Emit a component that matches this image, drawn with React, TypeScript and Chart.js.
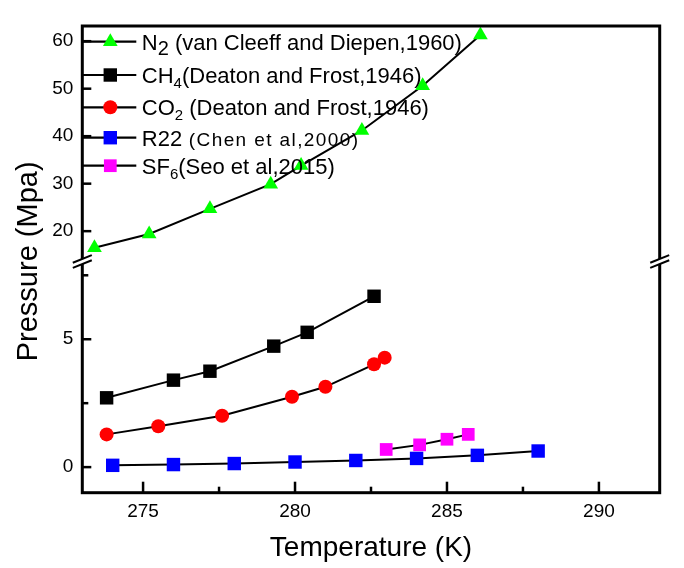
import React, { useEffect, useRef } from "react";
import { Chart, registerables } from "chart.js";

Chart.register(...registerables);

// ---------- data ----------
const temperatureRange = [273, 292];
const lowerPressureRange = [-1, 8];
const upperPressureRange = [13.4, 63.2];

const xTickLabels = [275, 280, 285, 290];
const xMinorTicks = [277.5, 282.5, 287.5];
const lowerTickLabels = [0, 5];
const lowerMinorTicks = [2.5, 7.5];
const upperTickLabels = [20, 30, 40, 50, 60];

const n2T = [273.4, 275.2, 277.2, 279.2, 280.2, 282.2, 284.2, 286.1];
const n2P = [16.5, 19.4, 24.7, 29.9, 33.8, 41.2, 50.6, 61.3];

const ch4T = [273.8, 276.0, 277.2, 279.3, 280.4, 282.6];
const ch4P = [2.71, 3.4, 3.75, 4.73, 5.27, 6.68];

const co2T = [273.8, 275.5, 277.6, 279.9, 281.0, 282.6, 282.95];
const co2P = [1.28, 1.6, 2.01, 2.75, 3.14, 4.02, 4.28];

const r22T = [274, 276, 278, 280, 282, 284, 286, 288];
const r22P = [0.07, 0.1, 0.14, 0.2, 0.26, 0.34, 0.46, 0.63];

const sf6T = [283.0, 284.1, 285.0, 285.7];
const sf6P = [0.69, 0.87, 1.09, 1.28];

const legendNames = ["N", "CH", "CO", "R22", "SF"];
const legendSubs = ["2", "4", "2", "", "6"];
const legendRefs = [
  " (van Cleeff and Diepen,1960)",
  "(Deaton and Frost,1946)",
  " (Deaton and Frost,1946)",
  " (Chen et al,2000)",
  "(Seo et al,2015)",
];

const xTitle = "Temperature (K)";
const yTitle = "Pressure (Mpa)";

// ---------- styles ----------
const FONT = "'Liberation Sans', Arial, Helvetica, sans-serif";
const markerColors = ["#00ff00", "#000000", "#ff0000", "#0000ff", "#ff00ff"];
const markerStyles = ["triangle", "rect", "circle", "rect", "rect"];
const markerRadii = [8.5, 9.5, 7, 9.5, 9];

const toPts = (xs: number[], ys: number[]) => xs.map((x, i) => ({ x, y: ys[i] }));

function drawMarker(ctx: CanvasRenderingContext2D, style: string, x: number, y: number, r: number, color: string) {
  ctx.fillStyle = color;
  ctx.beginPath();
  if (style === "triangle") {
    ctx.moveTo(x, y - r);
    ctx.lineTo(x + r * 0.866, y + r / 2);
    ctx.lineTo(x - r * 0.866, y + r / 2);
    ctx.closePath();
  } else if (style === "rect") {
    const s = r * Math.SQRT1_2;
    ctx.rect(x - s, y - s, 2 * s, 2 * s);
  } else {
    ctx.arc(x, y, r, 0, Math.PI * 2);
  }
  ctx.fill();
}

const decorPlugin = {
  id: "decor",
  afterDatasetsDraw(chart: any) {
    const { ctx, chartArea: a, scales } = chart;
    const x = scales.x;
    const lo = scales.yLow;
    const hi = scales.yHigh;
    ctx.save();
    ctx.strokeStyle = "#000";
    ctx.lineCap = "butt";
    const seg = (x1: number, y1: number, x2: number, y2: number) => {
      ctx.beginPath();
      ctx.moveTo(x1, y1);
      ctx.lineTo(x2, y2);
      ctx.stroke();
    };
    ctx.lineWidth = 2.5;
    xTickLabels.forEach((v) => {
      const p = x.getPixelForValue(v);
      seg(p, a.bottom, p, a.bottom - 11);
    });
    xMinorTicks.forEach((v) => {
      const p = x.getPixelForValue(v);
      seg(p, a.bottom, p, a.bottom - 6);
    });
    lowerTickLabels.forEach((v) => {
      const p = lo.getPixelForValue(v);
      seg(a.left, p, a.left + 9, p);
    });
    lowerMinorTicks.forEach((v) => {
      const p = lo.getPixelForValue(v);
      seg(a.left, p, a.left + 6, p);
    });
    upperTickLabels.forEach((v) => {
      const p = hi.getPixelForValue(v);
      seg(a.left, p, a.left + 9, p);
    });
    // frame
    ctx.lineWidth = 3;
    ctx.strokeRect(a.left, a.top, a.right - a.left, a.bottom - a.top);
    // axis breaks
    const by = lo.top - 1;
    [a.left, a.right].forEach((bx) => {
      const dx = 9.5;
      const dy = 3.8;
      const g = 2.6;
      ctx.fillStyle = "#fff";
      ctx.beginPath();
      ctx.moveTo(bx - 4, by + 1.6 - g);
      ctx.lineTo(bx + 4, by - 1.6 - g);
      ctx.lineTo(bx + 4, by - 1.6 + g);
      ctx.lineTo(bx - 4, by + 1.6 + g);
      ctx.closePath();
      ctx.fill();
      ctx.lineWidth = 2;
      seg(bx - dx, by + dy - g, bx + dx, by - dy - g);
      seg(bx - dx, by + dy + g, bx + dx, by - dy + g);
    });
    ctx.restore();
  },
  afterDraw(chart: any) {
    const { ctx, chartArea: a } = chart;
    ctx.save();
    // legend
    const rows = [41.7, 75, 107.3, 137.7, 165.7];
    const lineX1 = a.left;
    const lineX2 = a.left + 54;
    const markX = a.left + 28;
    const textX = a.left + 59.5;
    legendNames.forEach((name, i) => {
      const y = rows[i];
      ctx.strokeStyle = "#000";
      ctx.lineWidth = 2.2;
      ctx.beginPath();
      ctx.moveTo(lineX1, y);
      ctx.lineTo(lineX2, y);
      ctx.stroke();
      drawMarker(ctx, markerStyles[i], markX, y, markerRadii[i], markerColors[i]);
      ctx.fillStyle = "#000";
      ctx.textBaseline = "alphabetic";
      ctx.textAlign = "left";
      const base = y + 8;
      let cx = textX;
      ctx.font = `22px ${FONT}`;
      ctx.fillText(name, cx, base);
      cx += ctx.measureText(name).width;
      if (legendSubs[i]) {
        const big = i === 0;
        ctx.font = `${big ? 20 : 15}px ${FONT}`;
        ctx.fillText(legendSubs[i], cx, base + 5);
        cx += ctx.measureText(legendSubs[i]).width;
      }
      if (i === 3) {
        ctx.font = `19px ${FONT}`;
        (ctx as any).letterSpacing = "1.4px";
        ctx.fillText(legendRefs[i], cx, base);
        (ctx as any).letterSpacing = "0px";
      } else {
        ctx.font = `22px ${FONT}`;
        ctx.fillText(legendRefs[i], cx, base);
      }
    });
    // axis titles
    ctx.fillStyle = "#000";
    ctx.font = `28px ${FONT}`;
    ctx.textAlign = "center";
    ctx.textBaseline = "alphabetic";
    ctx.fillText(xTitle, (a.left + a.right) / 2, 556);
    ctx.font = `29px ${FONT}`;
    ctx.translate(37, (a.top + a.bottom) / 2 + 2);
    ctx.rotate(-Math.PI / 2);
    ctx.fillText(yTitle, 0, 0);
    ctx.restore();
  },
};

const lineDataset = (label: string, xs: number[], ys: number[], axis: string, idx: number) => ({
  label,
  data: toPts(xs, ys),
  xAxisID: "x",
  yAxisID: axis,
  showLine: true,
  borderColor: "#000",
  borderWidth: 2,
  tension: 0,
  pointStyle: markerStyles[idx],
  pointRadius: markerRadii[idx],
  pointBackgroundColor: markerColors[idx],
  pointBorderColor: markerColors[idx],
  pointBorderWidth: 0,
  clip: false,
});

export default function App() {
  const ref = useRef<HTMLCanvasElement>(null);
  useEffect(() => {
    const tickFont = { family: FONT, size: 19 };
    const chart = new Chart(ref.current as HTMLCanvasElement, {
      type: "scatter",
      data: {
        datasets: [
          lineDataset("N2", n2T, n2P, "yHigh", 0),
          lineDataset("CH4", ch4T, ch4P, "yLow", 1),
          lineDataset("CO2", co2T, co2P, "yLow", 2),
          lineDataset("R22", r22T, r22P, "yLow", 3),
          lineDataset("SF6", sf6T, sf6P, "yLow", 4),
        ] as any,
      },
      options: {
        animation: false,
        responsive: false,
        devicePixelRatio: 1,
        events: [],
        layout: { padding: { left: 0, top: 26, right: 24.3, bottom: 0 } },
        plugins: { legend: { display: false }, tooltip: { enabled: false }, title: { display: false } },
        scales: {
          x: {
            type: "linear",
            position: "bottom",
            min: temperatureRange[0],
            max: temperatureRange[1],
            grid: { display: false, drawTicks: false },
            border: { display: false },
            ticks: {
              stepSize: 2.5,
              includeBounds: false,
              autoSkip: false,
              maxRotation: 0,
              minRotation: 0,
              padding: 8,
              color: "#000",
              font: tickFont,
              callback: (v: any) => (xTickLabels.includes(Number(v)) ? String(v) : ""),
            },
            afterFit: (s: any) => {
              s.height = 75.3;
            },
          },
          yLow: {
            type: "linear",
            position: "left",
            stack: "pressure",
            stackWeight: 230.2,
            min: lowerPressureRange[0],
            max: lowerPressureRange[1],
            grid: { display: false, drawTicks: false },
            border: { display: false },
            ticks: {
              stepSize: 2.5,
              includeBounds: false,
              autoSkip: false,
              padding: 9,
              color: "#000",
              font: tickFont,
              callback: (v: any) => (lowerTickLabels.includes(Number(v)) ? String(v) : ""),
            },
            afterFit: (s: any) => {
              s.width = 82.3;
            },
          },
          yHigh: {
            type: "linear",
            position: "left",
            stack: "pressure",
            stackWeight: 236.5,
            min: upperPressureRange[0],
            max: upperPressureRange[1],
            grid: { display: false, drawTicks: false },
            border: { display: false },
            ticks: {
              stepSize: 10,
              includeBounds: false,
              autoSkip: false,
              padding: 9,
              color: "#000",
              font: tickFont,
              callback: (v: any) => (upperTickLabels.includes(Number(v)) ? String(v) : ""),
            },
            afterFit: (s: any) => {
              s.width = 82.3;
            },
          },
        } as any,
      },
      plugins: [decorPlugin],
    });
    return () => chart.destroy();
  }, []);
  return (
    <div style={{ position: "absolute", left: 0, top: 0, width: 684, height: 568, background: "#fff" }}>
      <canvas ref={ref} width={684} height={568} style={{ display: "block", width: 684, height: 568 }} />
    </div>
  );
}
